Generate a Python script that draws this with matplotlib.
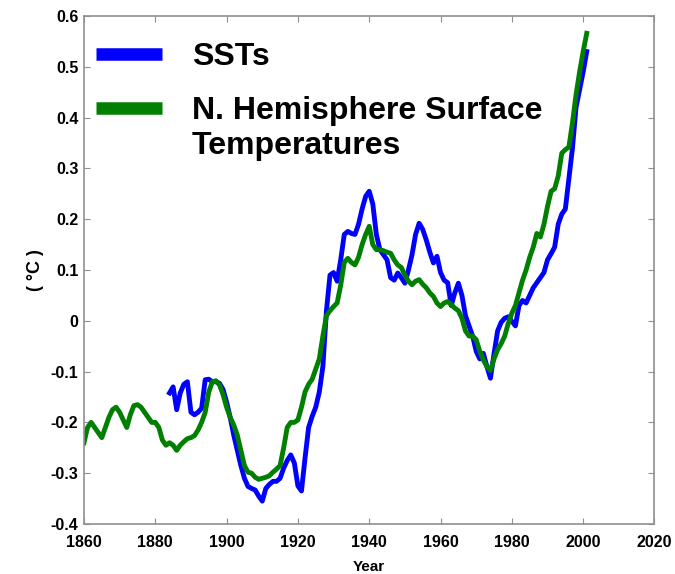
import matplotlib
matplotlib.use('Agg')
import matplotlib.pyplot as plt
from matplotlib.ticker import FuncFormatter

plt.rcParams['font.family'] = ['Liberation Sans', 'DejaVu Sans']
plt.rcParams['font.weight'] = 'bold'
plt.rcParams['axes.unicode_minus'] = False

# ---------------- data ----------------
nh_years = list(range(1860, 2002))
nh_temp = [
    -0.24, -0.21, -0.20, -0.21, -0.22, -0.23, -0.21, -0.19, -0.175, -0.17,    # 1860s
    -0.18, -0.195, -0.21, -0.185, -0.167, -0.165, -0.17, -0.18, -0.19, -0.20,  # 1870s
    -0.20, -0.21, -0.235, -0.245, -0.24, -0.245, -0.255, -0.245, -0.238, -0.232,  # 1880s
    -0.23, -0.226, -0.215, -0.20, -0.18, -0.14, -0.12, -0.118, -0.126, -0.145,  # 1890s
    -0.17, -0.19, -0.205, -0.225, -0.255, -0.285, -0.298, -0.30, -0.308, -0.312,  # 1900s
    -0.31, -0.308, -0.305, -0.298, -0.292, -0.285, -0.25, -0.21, -0.20, -0.20,  # 1910s
    -0.195, -0.17, -0.14, -0.125, -0.115, -0.095, -0.075, -0.03, 0.01, 0.02,  # 1920s
    0.028, 0.035, 0.07, 0.115, 0.123, 0.115, 0.11, 0.125, 0.15, 0.17,  # 1930s
    0.186, 0.15, 0.14, 0.14, 0.138, 0.135, 0.133, 0.12, 0.11, 0.105,  # 1940s
    0.09, 0.078, 0.071, 0.078, 0.081, 0.072, 0.065, 0.055, 0.048, 0.035,  # 1950s
    0.028, 0.035, 0.038, 0.032, 0.025, 0.02, 0.005, -0.02, -0.03, -0.03,  # 1960s
    -0.037, -0.06, -0.077, -0.09, -0.098, -0.075, -0.057, -0.045, -0.03, -0.005,  # 1970s
    0.015, 0.03, 0.055, 0.08, 0.10, 0.125, 0.145, 0.172, 0.165, 0.19,  # 1980s
    0.225, 0.255, 0.26, 0.285, 0.33, 0.337, 0.342, 0.39, 0.445, 0.49,  # 1990s
    0.53, 0.566,  # 2000-2001
]

sst_years = list(range(1884, 2002))
sst_temp = [
    -0.142, -0.13, -0.175, -0.142, -0.125, -0.12,  # 1884-1889
    -0.18, -0.185, -0.18, -0.172, -0.116, -0.115, -0.12, -0.12, -0.123, -0.135,  # 1890s
    -0.16, -0.19, -0.225, -0.255, -0.285, -0.31, -0.326, -0.33, -0.333, -0.345,  # 1900s
    -0.355, -0.33, -0.322, -0.316, -0.316, -0.31, -0.29, -0.275, -0.264, -0.28,  # 1910s
    -0.325, -0.335, -0.27, -0.21, -0.188, -0.17, -0.14, -0.09, 0.02, 0.09,  # 1920s
    0.095, 0.078, 0.12, 0.17, 0.176, 0.172, 0.17, 0.19, 0.22, 0.245,  # 1930s
    0.255, 0.23, 0.17, 0.14, 0.13, 0.12, 0.085, 0.08, 0.094, 0.085,  # 1940s
    0.074, 0.10, 0.13, 0.17, 0.192, 0.18, 0.159, 0.135, 0.114, 0.127,  # 1950s
    0.095, 0.08, 0.075, 0.03, 0.055, 0.074, 0.05, 0.01, -0.01, -0.03,  # 1960s
    -0.06, -0.075, -0.064, -0.09, -0.113, -0.065, -0.02, -0.003, 0.005, 0.008,  # 1970s
    -0.001, -0.01, 0.03, 0.04, 0.035, 0.05, 0.065, 0.075, 0.085, 0.095,  # 1980s
    0.12, 0.132, 0.145, 0.19, 0.21, 0.22, 0.28, 0.34, 0.42, 0.455,  # 1990s
    0.49, 0.53,  # 2000-2001
]

x_ticks = [1860, 1880, 1900, 1920, 1940, 1960, 1980, 2000, 2020]
y_ticks = [-0.4, -0.3, -0.2, -0.1, 0, 0.1, 0.2, 0.3, 0.4, 0.5, 0.6]

# ---------------- figure ----------------
fig = plt.figure(figsize=(6.75, 5.74), dpi=100)
ax = fig.add_axes([0.1244, 0.0871, 0.8452, 0.885])

ax.plot(sst_years, sst_temp, color='#0000ff', linewidth=3.5, label='SSTs')
ax.plot(nh_years, nh_temp, color='#007f00', linewidth=3.5,
        label='N. Hemisphere Surface\nTemperatures')

ax.set_xlim(1860, 2020)
ax.set_ylim(-0.4, 0.6)
ax.set_xticks(x_ticks)
ax.set_yticks(y_ticks)
ax.yaxis.set_major_formatter(FuncFormatter(lambda v, p: '%g' % round(v, 2)))

ax.tick_params(direction='in', length=4, color='#909090', labelsize=11.5,
               top=True, right=True)
ax.tick_params(axis='x', pad=8)
ax.tick_params(axis='y', pad=4)
for lab in ax.get_xticklabels() + ax.get_yticklabels():
    lab.set_fontweight('bold')
for sp in ax.spines.values():
    sp.set_color('#909090')
    sp.set_linewidth(1.2)

ax.set_xlabel('Year', fontsize=11, fontweight='bold', labelpad=7)
ax.set_ylabel('( °C )', fontsize=13, fontweight='bold', labelpad=5)

leg = ax.legend(loc='upper left', bbox_to_anchor=(-0.0246, 1.0), frameon=False,
                prop={'size': 23, 'weight': 'bold'}, handlelength=2.05,
                handletextpad=0.95, labelspacing=0.75, borderaxespad=0.42)
for h in leg.legend_handles:
    h.set_linewidth(9)
    h.set_solid_capstyle('butt')
# put the green key beside the first line of its two-line label
g = leg.legend_handles[1]
g.set_ydata([y + 15 for y in g.get_ydata()])

fig.savefig('out.png', dpi=100)
